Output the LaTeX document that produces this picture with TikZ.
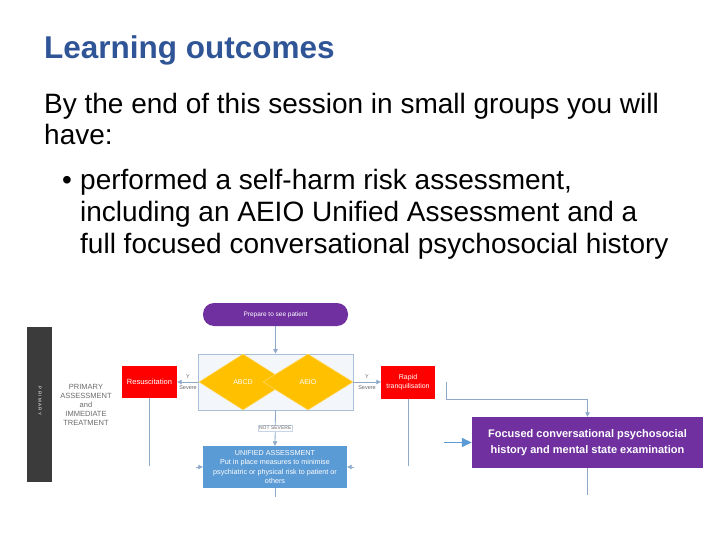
\documentclass[tikz,border=0pt]{standalone}
\usepackage{fontspec}
\setmainfont{Liberation Sans}
\usetikzlibrary{shapes.geometric,arrows.meta}
\definecolor{titleblue}{HTML}{2F5597}
\definecolor{purp}{HTML}{7030A0}
\definecolor{redbox}{HTML}{FF0000}
\definecolor{amber}{HTML}{FFC000}
\definecolor{ublue}{HTML}{5B9BD5}
\definecolor{conn}{HTML}{8EA9C8}
\definecolor{contborder}{HTML}{A9BFD9}
\definecolor{contfill}{HTML}{F3F6FA}
\definecolor{barcol}{HTML}{3B3B3B}
\definecolor{labgray}{HTML}{6A6A6A}
\newcommand\myfs[2]{\fontsize{#1}{#2}\selectfont}
\begin{document}
\begin{tikzpicture}[x=1pt,y=-1pt,
  bodytext/.style={anchor=base west, inner sep=0, font=\myfs{28}{32}},
  box/.style={inner sep=0, text=white, align=center},
  link/.style={draw=conn, line width=0.8pt},
  arrowlink/.style={link, -{Triangle[length=4.5pt,width=4.5pt]}},
  smalllab/.style={inner sep=0.5pt, text=labgray, font=\myfs{5.5}{6}},
  amberdiamond/.style={diamond, fill=amber, draw=amber!60!white, line width=0.5pt, inner sep=0, minimum width=88, minimum height=56, text=white, font=\myfs{7}{8}}
]
\useasboundingbox (0,0) rectangle (720,540);

% heading and text
\node[anchor=base west, inner sep=0, text=titleblue, font=\myfs{31.5}{36}\bfseries] (title) at (44,59) {Learning outcomes};
\node[bodytext] (l1) at (44,114) {By the end of this session in small groups you will};
\node[bodytext] (l2) at (44,145) {have:};
\node[bodytext] (bul) at (62,190) {•};
\node[bodytext] (l3) at (80,190) {performed a self-harm risk assessment,};
\node[bodytext] (l4) at (80,222) {including an AEIO Unified Assessment and a};
\node[bodytext] (l5) at (80,254) {full focused conversational psychosocial history};

% left bar
\node[fill=barcol, minimum width=25, minimum height=155, inner sep=0] (bar) at (39.5,404.5) {};
\node[rotate=-90, text=white, inner sep=0, font=\myfs{4.5}{5}] (bartext) at (40,401) {P R I M A R Y};
\node[align=center, text=labgray, inner sep=0, font=\myfs{7.5}{9}] (prim) at (86,405) {PRIMARY\\ASSESSMENT\\and\\IMMEDIATE\\TREATMENT};

% flow
\node[box, fill=purp, rounded corners=11, minimum width=145, minimum height=23, font=\myfs{6.5}{7}] (prep) at (275.5,314.5) {Prepare to see patient};
\node[draw=contborder, fill=contfill, line width=0.8pt, minimum width=155, minimum height=56, inner sep=0] (cont) at (275.5,382) {};
\node[amberdiamond] (d1) at (243,382) {ABCD};
\node[amberdiamond, minimum width=90] (d2) at (308,382) {AEIO};

\node[box, fill=redbox, minimum width=55, minimum height=32, font=\myfs{7.5}{8}] (resus) at (149.5,382) {Resuscitation};
\node[box, fill=redbox, minimum width=54, minimum height=33, font=\myfs{7}{8.5}] (rapid) at (408,382) {Rapid\\tranquilisation};

\node[box, fill=ublue, minimum width=144, minimum height=42, font=\myfs{7.2}{9.6}] (unif) at (275,467) {UNIFIED ASSESSMENT\\Put in place measures to minimise\\psychiatric or physical risk to patient or\\others};

\node[box, fill=purp, minimum width=231, minimum height=51, font=\myfs{11}{16}\bfseries] (foc) at (587.5,442.5) {Focused conversational psychosocial\\history and mental state examination};

% connectors
\draw[arrowlink] (prep.south) -- (cont.north);
\draw[arrowlink] (cont.west) -- (resus.east);
\node[smalllab] (y1) at (188,377) {Y};
\node[smalllab] (s1) at (188,387.5) {Severe};
\draw[arrowlink] (cont.east) -- (rapid.west);
\node[smalllab] (y2) at (367,377) {Y};
\node[smalllab] (s2) at (367,387.5) {Severe};
\draw[arrowlink] (cont.south) -- node[fill=white, draw=conn!50, line width=0.3pt, inner sep=1pt, text=labgray, font=\myfs{5}{6}] (ns) {NOT SEVERE} (unif.north);

\coordinate (rd) at (149.5,466);
\draw[link] (resus.south) -- (rd);
\coordinate (qd) at (408,466);
\draw[link] (rapid.south) -- (qd);
\coordinate (ud) at (275,497);
\draw[link] (unif.south) -- (ud);
\coordinate (ul) at (196,467);
\draw[arrowlink] (ul) -- (unif.west);
\coordinate (ur) at (354,467);
\draw[arrowlink] (ur) -- (unif.east);

\coordinate (ft) at (446,382);
\draw[arrowlink] (ft) -- ++(0,17) -| (foc.north);
\coordinate (fl) at (444,442.5);
\draw[link, draw=ublue, line width=1.5pt, -{Triangle[length=10pt,width=9pt]}] (fl) -- (foc.west);
\coordinate (fd) at (587.5,495);
\draw[link] (foc.south) -- (fd);
\end{tikzpicture}
\end{document}
